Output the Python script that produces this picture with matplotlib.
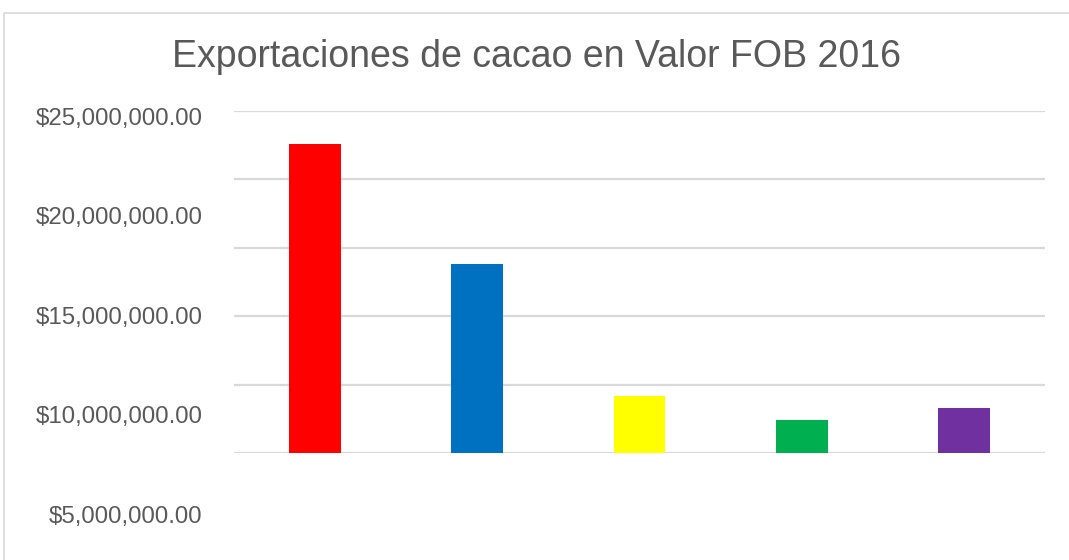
import matplotlib
matplotlib.use("Agg")
import matplotlib.pyplot as plt
from matplotlib.patches import Rectangle
from matplotlib.ticker import FuncFormatter

# Data
categories = ["Categoría 1", "Categoría 2", "Categoría 3", "Categoría 4", "Categoría 5"]
values = [22600000, 13800000, 4150000, 2400000, 3300000]
bar_colors = ["#FF0000", "#0070C0", "#FFFF00", "#00B050", "#7030A0"]
grid_ticks = [0, 5000000, 10000000, 15000000, 20000000, 25000000]
label_ticks = [5000000, 10000000, 15000000, 20000000, 25000000]
title = "Exportaciones de cacao en Valor FOB 2016"

plt.rcParams['font.family'] = ['Liberation Sans', 'DejaVu Sans']
TXT = "#595959"
GRID = "#D9D9D9"

W, H = 1069, 560
fig = plt.figure(figsize=(W / 100, H / 100), dpi=100)

# outer chart frame
fig.patches.append(Rectangle((4 / W, -0.1), 1.2, (H - 13) / H + 0.1,
                             transform=fig.transFigure, fill=False,
                             edgecolor=GRID, linewidth=1.2))

# main plot area
left, right = 234 / W, 1045 / W
top, bottom = (H - 111) / H, (H - 453) / H
ax = fig.add_axes([left, bottom, right - left, top - bottom])
x = range(len(categories))
ax.bar(x, values, width=0.32, color=bar_colors, zorder=3)
ax.set_xlim(-0.5, len(categories) - 0.5)
ax.set_ylim(0, 25000000)
ax.set_yticks(grid_ticks)
ax.yaxis.grid(True, color=GRID, linewidth=1.6, zorder=0)
ax.set_axisbelow(True)
ax.tick_params(left=False, bottom=False, labelleft=False, labelbottom=False)
ax.set_xticks(list(x))
ax.set_xticklabels(categories)
for s in ax.spines.values():
    s.set_visible(False)

# value labels axis (offset from gridlines as in the original)
lab_bottom = (H - 540) / H
lab = fig.add_axes([left, lab_bottom, right - left, top - lab_bottom])
lab.patch.set_visible(False)
lab.set_ylim(3.70e6, 25.26e6)
lab.set_yticks(label_ticks)
lab.yaxis.set_major_formatter(FuncFormatter(lambda v, p: "${:,.2f}".format(v)))
lab.tick_params(left=False, bottom=False, labelbottom=False, labelsize=17.3,
                labelcolor=TXT, pad=19)
lab.set_xticks([])
for s in lab.spines.values():
    s.set_visible(False)

fig.text(536 / W, (H - 57) / H, title, ha="center", va="center",
         fontsize=27, color=TXT)

fig.savefig("out.png", dpi=100)
